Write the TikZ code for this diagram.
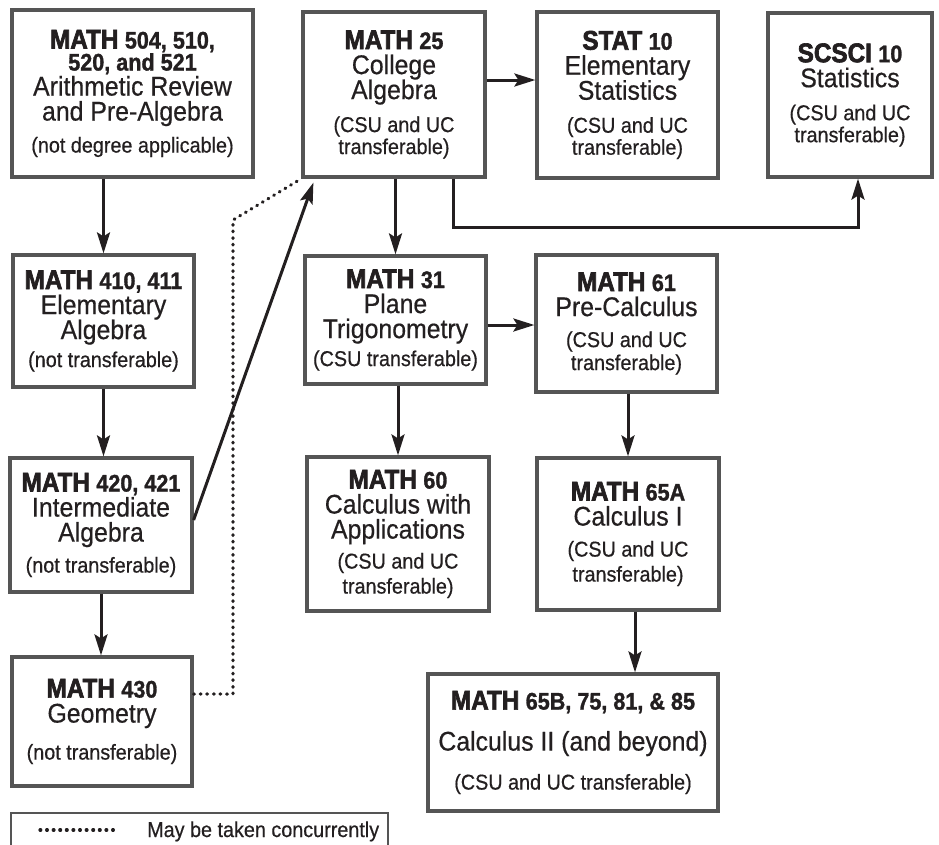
\documentclass[tikz,border=0pt]{standalone}
\usepackage{fontspec}
\setmainfont{Liberation Sans}[FakeStretch=0.92,FakeBold=0.5]
\newfontfamily\hvyfont{Liberation Sans Bold}[FakeStretch=0.9,FakeBold=2.4]
\newfontfamily\numfont{Liberation Sans Bold}[FakeStretch=0.9,FakeBold=1.2]
\usetikzlibrary{arrows.meta,calc}
\definecolor{boxgray}{HTML}{555555}
\definecolor{ink}{HTML}{231F20}
\lineskiplimit=-100pt
\newcommand\hdw[1]{{\hvyfont\fontsize{27}{25}\selectfont #1}}
\newcommand\numt[1]{{\numfont\fontsize{24}{25}\selectfont #1}}
\newcommand\bodyf{\fontsize{27}{25}\selectfont}
\newcommand\parf{\fontsize{21.5}{25}\selectfont}
\begin{document}
\begin{tikzpicture}[x=1pt,y=-1pt,
  box/.style={draw=boxgray, line width=3.2pt, fill=white, inner sep=0pt, align=center,
    text=ink, font=\fontsize{25}{25}\selectfont},
  arr/.style={line width=3pt, draw=ink, -{Stealth[length=21pt,width=13pt,inset=4pt]}},
  dots/.style={line width=3.2pt, draw=ink, line cap=round, dash pattern=on 0.8pt off 5.8pt},
  legbox/.style={draw=boxgray, line width=1.6pt, fill=white, inner sep=0pt}]
\fill[white] (0,0) rectangle (939,844);
\useasboundingbox (0,0) rectangle (939,844);

% column 1
\node[box, minimum width=241, minimum height=167] (A) at (132.5,93.5)
  {\hdw{MATH} \numt{504, 510,}\\[-3pt] \numt{520, and 521}\\ \bodyf Arithmetic Review\\ \bodyf and Pre-Algebra\\[7pt] \parf (not degree applicable)};
\node[box, minimum width=181, minimum height=132] (B) at (103.5,321)
  {\hdw{MATH} \numt{410, 411}\\ \bodyf Elementary\\ \bodyf Algebra\\[3pt] \parf (not transferable)};
\node[box, minimum width=182, minimum height=134] (C) at (101,525)
  {\hdw{MATH} \numt{420, 421}\\ \bodyf Intermediate\\ \bodyf Algebra\\[6pt] \parf (not transferable)};
\node[box, minimum width=180, minimum height=129] (D) at (102,721.5)
  {\hdw{MATH} \numt{430}\\ \bodyf Geometry\\[12pt] \parf (not transferable)};

% top row
\node[box, minimum width=182, minimum height=165] (E) at (394,94.5)
  {\hdw{MATH} \numt{25}\\ \bodyf College\\ \bodyf Algebra\\[8pt] \parf (CSU and UC\\[-3pt] \parf transferable)};
\node[box, minimum width=181, minimum height=166] (F) at (627.5,95)
  {\hdw{STAT} \numt{10}\\ \bodyf Elementary\\ \bodyf Statistics\\[8pt] \parf (CSU and UC\\[-3pt] \parf transferable)};
\node[box, minimum width=164, minimum height=164] (G) at (850,95)
  {\hdw{SCSCI} \numt{10}\\ \bodyf Statistics\\[8pt] \parf (CSU and UC\\[-3pt] \parf transferable)};

% middle
\node[box, minimum width=181, minimum height=128] (H) at (395.5,320)
  {\hdw{MATH} \numt{31}\\ \bodyf Plane\\ \bodyf Trigonometry\\[3pt] \parf (CSU transferable)};
\node[box, minimum width=181, minimum height=137] (I) at (626.5,323.5)
  {\hdw{MATH} \numt{61}\\ \bodyf Pre-Calculus\\[6pt] \parf (CSU and UC\\[-2pt] \parf transferable)};
\node[box, minimum width=182, minimum height=154] (J) at (398,534)
  {\hdw{MATH} \numt{60}\\ \bodyf Calculus with\\ \bodyf Applications\\[5pt] \parf (CSU and UC\\ \parf transferable)};
\node[box, minimum width=182, minimum height=152] (K) at (628,534)
  {\hdw{MATH} \numt{65A}\\ \bodyf Calculus I\\[6pt] \parf (CSU and UC\\ \parf transferable)};
\node[box, minimum width=290, minimum height=137] (L) at (573,742.5)
  {\hdw{MATH} \numt{65B, 75, 81, \& 85}\\[16pt] \bodyf Calculus II (and beyond)\\[14pt] \parf (CSU and UC transferable)};

% legend
\node[legbox, anchor=north west, minimum width=377, minimum height=45] (leg) at (10,812) {};
\node[anchor=base west, inner sep=0pt, text=ink, font=\fontsize{21.5}{25}\selectfont] (legtxt) at (147,837) {May be taken concurrently};
\coordinate (lg1) at (40,830);
\coordinate (lg2) at (117,830);
\draw[dots] (lg1) -- (lg2);

% connectors
\draw[arr] (B.north |- A.south) -- (B.north);
\draw[arr] (B.south) -- (B.south |- C.north);
\draw[arr] (C.south) -- (C.south |- D.north);
\draw[arr] ($(C.east)+(0,-5)$) -- ($(E.south west)+(12,4)$);
\draw[arr] ($(E.east)+(0,-14.5)$) coordinate (ef) -- (F.west |- ef);
\draw[arr] (H.north |- E.south) -- (H.north);
\coordinate (sc1) at (453,227);
\coordinate (sc2) at (858,227);
\draw[arr] (sc1 |- E.south) -- (sc1) -- (sc2) -- (sc2 |- G.south);
\draw[arr] ($(H.east)+(0,5)$) coordinate (hi) -- (I.west |- hi);
\draw[arr] (J.north |- H.south) -- (J.north);
\draw[arr] (K.north |- I.south) -- (K.north);
\draw[arr] ($(K.south)+(7,0)$) coordinate (kl) -- (kl |- L.north);

% concurrent (dotted)
\coordinate (dt1) at (233,694);
\coordinate (dt2) at (233,220);
\draw[dots] (D.east |- dt1) -- (dt1) -- (dt2) -- (E.south west);
\end{tikzpicture}
\end{document}
